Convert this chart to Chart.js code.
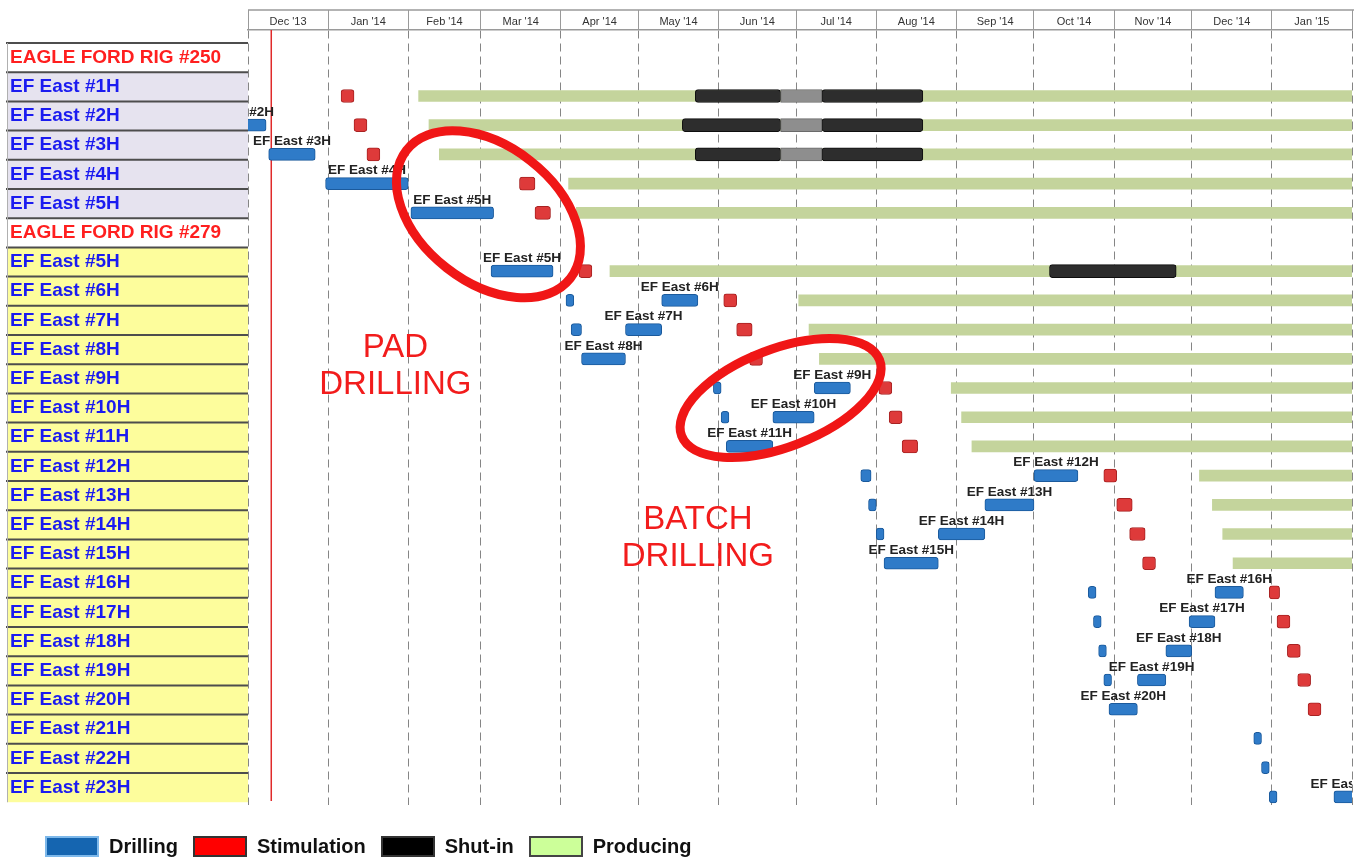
<!DOCTYPE html>
<html>
<head>
<meta charset="utf-8">
<title>Eagle Ford pad vs batch drilling</title>
<script src="https://cdn.jsdelivr.net/npm/chart.js@4.4.1/dist/chart.umd.min.js"></script>
<style>
  body { margin: 0; background: #fff; }
  #wrap { position: relative; width: 1368px; height: 859px; }
  #legend { position: absolute; left: 45px; top: 834px; display: flex; align-items: center;
            font: bold 20px 'Liberation Sans', Arial, sans-serif; color: #111; }
  #legend .box { width: 50px; height: 17px; border: 2px solid #333; }
  #legend .txt { margin: 0 15px 0 10px; line-height: 24px; }
</style>
</head>
<body>
<div id="wrap">
  <canvas id="gantt" width="1368" height="859"></canvas>
  <div id="legend"></div>
</div>
<script>
// ---- data ----
const rows = [
  'EAGLE FORD RIG #250', 'EF East #1H', 'EF East #2H', 'EF East #3H', 'EF East #4H', 'EF East #5H',
  'EAGLE FORD RIG #279', 'EF East #5H', 'EF East #6H', 'EF East #7H', 'EF East #8H', 'EF East #9H',
  'EF East #10H', 'EF East #11H', 'EF East #12H', 'EF East #13H', 'EF East #14H', 'EF East #15H',
  'EF East #16H', 'EF East #17H', 'EF East #18H', 'EF East #19H', 'EF East #20H', 'EF East #21H',
  'EF East #22H', 'EF East #23H'
];

const months = ["Dec '13", "Jan '14", "Feb '14", "Mar '14", "Apr '14", "May '14", "Jun '14",
  "Jul '14", "Aug '14", "Sep '14", "Oct '14", "Nov '14", "Dec '14", "Jan '15"];
const monthStarts = ['2013-12-01', '2014-01-01', '2014-02-01', '2014-03-01', '2014-04-01', '2014-05-01',
  '2014-06-01', '2014-07-01', '2014-08-01', '2014-09-01', '2014-10-01', '2014-11-01', '2014-12-01',
  '2015-01-01', '2015-02-01'];

const statusDate = '2013-12-10';

// [row, start, end, bar label]
const drilling = [
  [2, '2013-11-14', '2013-12-08', 'EF East #2H'],
  [3, '2013-12-09', '2013-12-27', 'EF East #3H'],
  [4, '2013-12-31', '2014-02-01', 'EF East #4H'],
  [5, '2014-02-02', '2014-03-06', 'EF East #5H'],
  [7, '2014-03-05', '2014-03-29', 'EF East #5H'],
  [8, '2014-04-03', '2014-04-06', ''],
  [8, '2014-05-10', '2014-05-24', 'EF East #6H'],
  [9, '2014-04-05', '2014-04-09', ''],
  [9, '2014-04-26', '2014-05-10', 'EF East #7H'],
  [10, '2014-04-09', '2014-04-26', 'EF East #8H'],
  [11, '2014-05-30', '2014-06-02', ''],
  [11, '2014-07-08', '2014-07-22', 'EF East #9H'],
  [12, '2014-06-02', '2014-06-05', ''],
  [12, '2014-06-22', '2014-07-08', 'EF East #10H'],
  [13, '2014-06-04', '2014-06-22', 'EF East #11H'],
  [14, '2014-07-26', '2014-07-30', ''],
  [14, '2014-10-01', '2014-10-18', 'EF East #12H'],
  [15, '2014-07-29', '2014-08-01', ''],
  [15, '2014-09-12', '2014-10-01', 'EF East #13H'],
  [16, '2014-08-01', '2014-08-04', ''],
  [16, '2014-08-25', '2014-09-12', 'EF East #14H'],
  [17, '2014-08-04', '2014-08-25', 'EF East #15H'],
  [18, '2014-10-22', '2014-10-25', ''],
  [18, '2014-12-10', '2014-12-21', 'EF East #16H'],
  [19, '2014-10-24', '2014-10-27', ''],
  [19, '2014-11-30', '2014-12-10', 'EF East #17H'],
  [20, '2014-10-26', '2014-10-29', ''],
  [20, '2014-11-21', '2014-12-01', 'EF East #18H'],
  [21, '2014-10-28', '2014-10-31', ''],
  [21, '2014-11-10', '2014-11-21', 'EF East #19H'],
  [22, '2014-10-30', '2014-11-10', 'EF East #20H'],
  [23, '2014-12-25', '2014-12-28', ''],
  [24, '2014-12-28', '2014-12-31', ''],
  [25, '2014-12-31', '2015-01-03', ''],
  [25, '2015-01-25', '2015-02-09', 'EF East #23H']
];

const stimulation = [
  [1, '2014-01-06', '2014-01-11'], [2, '2014-01-11', '2014-01-16'], [3, '2014-01-16', '2014-01-21'],
  [4, '2014-03-16', '2014-03-22'], [5, '2014-03-22', '2014-03-28'], [7, '2014-04-08', '2014-04-13'],
  [8, '2014-06-03', '2014-06-08'], [9, '2014-06-08', '2014-06-14'], [10, '2014-06-13', '2014-06-18'],
  [11, '2014-08-02', '2014-08-07'], [12, '2014-08-06', '2014-08-11'], [13, '2014-08-11', '2014-08-17'],
  [14, '2014-10-28', '2014-11-02'], [15, '2014-11-02', '2014-11-08'], [16, '2014-11-07', '2014-11-13'],
  [17, '2014-11-12', '2014-11-17'], [18, '2014-12-31', '2015-01-04'], [19, '2015-01-03', '2015-01-08'],
  [20, '2015-01-07', '2015-01-12'], [21, '2015-01-11', '2015-01-16'], [22, '2015-01-15', '2015-01-20']
];

const shutIn = [
  [1, '2014-05-23', '2014-06-25'], [1, '2014-07-11', '2014-08-19'],
  [2, '2014-05-18', '2014-06-25'], [2, '2014-07-11', '2014-08-19'],
  [3, '2014-05-23', '2014-06-25'], [3, '2014-07-11', '2014-08-19'],
  [7, '2014-10-07', '2014-11-25']
];
// lighter stretch inside the shut-in periods
const shutInPartial = [
  [1, '2014-06-25', '2014-07-11'], [2, '2014-06-25', '2014-07-11'], [3, '2014-06-25', '2014-07-11']
];

const producing = [
  [1, '2014-02-05', '2015-02-01'], [2, '2014-02-09', '2015-02-01'], [3, '2014-02-13', '2015-02-01'],
  [4, '2014-04-04', '2015-02-01'], [5, '2014-04-07', '2015-02-01'], [7, '2014-04-20', '2015-02-01'],
  [8, '2014-07-02', '2015-02-01'], [9, '2014-07-06', '2015-02-01'], [10, '2014-07-10', '2015-02-01'],
  [11, '2014-08-30', '2015-02-01'], [12, '2014-09-03', '2015-02-01'], [13, '2014-09-07', '2015-02-01'],
  [14, '2014-12-04', '2015-02-01'], [15, '2014-12-09', '2015-02-01'], [16, '2014-12-13', '2015-02-01'],
  [17, '2014-12-17', '2015-02-01']
];

const legendItems = [
  ['Drilling', '#1565b0', '#7db8ea'],
  ['Stimulation', '#ff0000', '#333333'],
  ['Shut-in', '#000000', '#333333'],
  ['Producing', '#ccff99', '#444444']
];

// ---- helpers ----
const FONT = "'Liberation Sans', Arial, sans-serif";
const day = s => (Date.parse(s) - Date.parse(monthStarts[0])) / 864e5;
const monthMids = monthStarts.slice(0, -1).map((s, i) => (day(s) + day(monthStarts[i + 1])) / 2);
const LABEL_SHIFT = -9.2;

const bars = (label, list, bg, border, order, extra) => Object.assign({
  label,
  data: list.map(r => ({ x: [day(r[1]), day(r[2])], y: r[0] })),
  backgroundColor: bg,
  borderColor: border,
  borderWidth: 1,
  borderRadius: 3,
  borderSkipped: false,
  barThickness: 12,
  grouped: false,
  order,
  xAxisID: 'x',
  yAxisID: 'y'
}, extra || {});

const decor = {
  id: 'decor',
  beforeDraw(chart) {
    const { ctx, chartArea, scales: { y } } = chart;
    const rowH = Math.abs(y.getPixelForValue(1) - y.getPixelForValue(0));
    ctx.save();
    // left table
    rows.forEach((name, i) => {
      const top = y.getPixelForValue(i) + LABEL_SHIFT - rowH / 2;
      ctx.fillStyle = name.startsWith('EAGLE') ? '#ffffff' : (i < 6 ? '#e6e3ef' : '#fdfd9c');
      ctx.fillRect(7, top, chartArea.left - 7, rowH);
      ctx.strokeStyle = '#4d4d4d';
      ctx.lineWidth = 2;
      ctx.beginPath();
      ctx.moveTo(6, top);
      ctx.lineTo(chartArea.left, top);
      ctx.stroke();
    });
    const first = y.getPixelForValue(0) + LABEL_SHIFT - rowH / 2;
    const last = y.getPixelForValue(rows.length - 1) + LABEL_SHIFT + rowH / 2;
    ctx.strokeStyle = '#b0b0b0';
    ctx.lineWidth = 1;
    ctx.beginPath();
    ctx.moveTo(7.5, first);
    ctx.lineTo(7.5, last);
    ctx.stroke();
    // header top line
    ctx.strokeStyle = '#9a9a9a';
    ctx.lineWidth = 1.5;
    ctx.beginPath();
    ctx.moveTo(chartArea.left, chartArea.top - 20);
    ctx.lineTo(chartArea.right + 2, chartArea.top - 20);
    ctx.stroke();
    ctx.restore();
  },
  beforeDatasetsDraw(chart) {
    const { ctx, chartArea, scales: { x } } = chart;
    const px = x.getPixelForValue(day(statusDate));
    ctx.save();
    ctx.strokeStyle = '#e02a2a';
    ctx.lineWidth = 1.5;
    ctx.beginPath();
    ctx.moveTo(px, chartArea.top);
    ctx.lineTo(px, chartArea.bottom - 4);
    ctx.stroke();
    ctx.restore();
  },
  afterDatasetsDraw(chart) {
    const { ctx, chartArea, scales: { x, y } } = chart;
    // bar labels above the drilling bars
    ctx.save();
    ctx.beginPath();
    ctx.rect(chartArea.left, 0, chartArea.right - chartArea.left, chart.height);
    ctx.clip();
    ctx.font = 'bold 13.5px ' + FONT;
    ctx.fillStyle = '#222';
    ctx.textAlign = 'center';
    ctx.textBaseline = 'middle';
    const meta = chart.getDatasetMeta(0);
    meta.data.forEach((bar, i) => {
      const text = drilling[i][3];
      if (!text) return;
      const p = bar.getProps(['x', 'base', 'y'], true);
      ctx.fillText(text, (p.x + p.base) / 2, p.y - 13);
    });
    ctx.restore();

    // callouts
    ctx.save();
    ctx.strokeStyle = '#f01616';
    ctx.lineWidth = 9;
    [['2014-03-04', 5.05, 104, 68, 38], ['2014-06-25', 11.34, 106, 49, -21]].forEach(e => {
      ctx.beginPath();
      ctx.ellipse(x.getPixelForValue(day(e[0])), y.getPixelForValue(e[1]), e[2], e[3],
        e[4] * Math.PI / 180, 0, Math.PI * 2);
      ctx.stroke();
    });
    ctx.fillStyle = '#f21c1c';
    ctx.font = '33px ' + FONT;
    ctx.textAlign = 'center';
    ctx.textBaseline = 'middle';
    [['2014-01-27', 10.25, 'PAD', 'DRILLING'], ['2014-05-24', 16.15, 'BATCH', 'DRILLING']].forEach(t => {
      const cx = x.getPixelForValue(day(t[0]));
      const cy = y.getPixelForValue(t[1]);
      ctx.fillText(t[2], cx, cy - 18.5);
      ctx.fillText(t[3], cx, cy + 18.5);
    });
    ctx.restore();
  }
};

// ---- chart ----
Chart.defaults.font.family = FONT;

new Chart(document.getElementById('gantt').getContext('2d'), {
  type: 'bar',
  data: {
    datasets: [
      bars('Drilling', drilling, '#2f7bc8', '#1b5a9c', 1),
      bars('Stimulation', stimulation, '#de3a3a', '#a82222', 2, { barThickness: 13 }),
      bars('Shut-in (partial)', shutInPartial, '#8e8e8e', '#6a6a6a', 3, { borderRadius: 0, barThickness: 13 }),
      bars('Shut-in', shutIn, '#2d2d2d', '#0e0e0e', 4, { barThickness: 13 }),
      bars('Producing', producing, '#c4d49c', '#c4d49c', 5, { borderWidth: 0, borderRadius: 0, barThickness: 11 })
    ]
  },
  options: {
    indexAxis: 'y',
    responsive: false,
    animation: false,
    layout: { padding: { left: 10, right: 16, top: 10, bottom: 54 } },
    plugins: { legend: { display: false }, tooltip: { enabled: false } },
    scales: {
      x: {
        type: 'linear', position: 'top', weight: 0,
        min: 0, max: day(monthStarts[monthStarts.length - 1]),
        afterBuildTicks: s => { s.ticks = monthStarts.map(d => ({ value: day(d) })); },
        afterFit: s => { s.height = 0; },
        ticks: { display: false },
        grid: { color: '#858585', lineWidth: 1, drawTicks: true, tickLength: 20,
                tickColor: '#9a9a9a', tickBorderDash: [], offset: false },
        border: { display: true, color: '#9a9a9a', width: 1.5, dash: [8, 5] }
      },
      xl: {
        type: 'linear', position: 'top', weight: 1,
        min: 0, max: day(monthStarts[monthStarts.length - 1]),
        afterBuildTicks: s => { s.ticks = monthMids.map(v => ({ value: v })); },
        afterFit: s => { s.height = 20; },
        ticks: { autoSkip: false, maxRotation: 0, padding: -7, color: '#333',
                 font: { family: FONT, size: 11 }, callback: (v, i) => months[i] },
        grid: { display: false },
        border: { display: false }
      },
      y: {
        type: 'linear', reverse: true, min: -1.26, max: 25.28, offset: false,
        afterBuildTicks: s => { s.ticks = rows.map((r, i) => ({ value: i })); },
        afterFit: s => { s.width = 238; },
        ticks: {
          autoSkip: false, crossAlign: 'far', labelOffset: LABEL_SHIFT,
          callback: v => rows[v],
          color: c => (rows[c.index] || '').startsWith('EAGLE') ? '#ff1f1f' : '#1b1bf0',
          font: { family: FONT, size: 19, weight: 'bold' }
        },
        grid: { display: false, offset: false },
        border: { display: false }
      }
    }
  },
  plugins: [decor]
});

// legend below the chart
const legend = document.getElementById('legend');
legendItems.forEach(([name, fill, edge]) => {
  const box = document.createElement('span');
  box.className = 'box';
  box.style.background = fill;
  box.style.borderColor = edge;
  const txt = document.createElement('span');
  txt.className = 'txt';
  txt.textContent = name;
  legend.appendChild(box);
  legend.appendChild(txt);
});
</script>
</body>
</html>
